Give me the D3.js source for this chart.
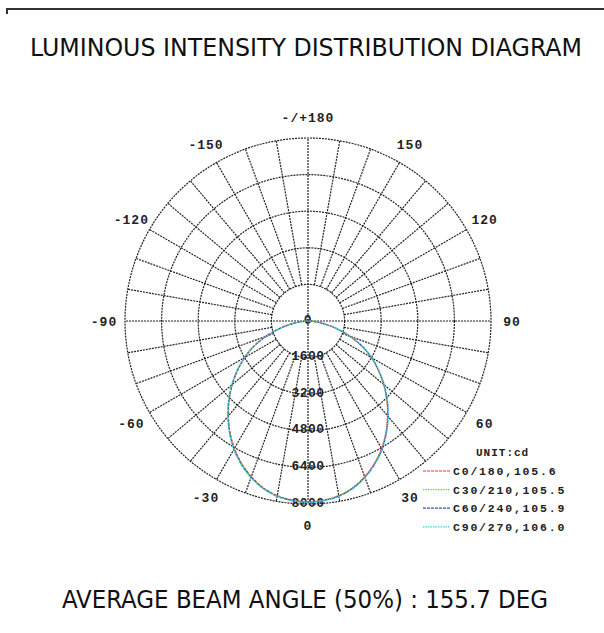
<!DOCTYPE html>
<html>
<head>
<meta charset="utf-8">
<script src="https://cdn.jsdelivr.net/npm/d3@7/dist/d3.min.js"></script>
<style>
  body { margin: 0; background: #fff; }
  svg { display: block; }
</style>
</head>
<body>
<svg id="chart"></svg>
<script>
// gamma angles (deg from nadir), one half of each C-plane, mirrored for the other half
var gammaAngles = [0,5,10,15,20,25,30,35,40,45,50,55,60,65,70,75,80,85,90];

// intensities in cd
var c0Values  = [7900,7860,7750,7550,7240,6870,6430,5940,5410,4870,4310,3750,3190,2590,1940,1290,710,270,0];
var c30Values = [7910,7870,7760,7560,7250,6880,6450,5950,5420,4880,4320,3760,3200,2600,1950,1300,720,280,0];
var c60Values = [7920,7880,7770,7570,7270,6900,6470,5970,5440,4900,4340,3780,3220,2620,1960,1310,730,280,0];
var c90Values = [7930,7890,7790,7590,7290,6920,6490,5990,5460,4920,4360,3800,3240,2640,1980,1320,740,290,0];

var seriesNames = ["C0/180,105.6","C30/210,105.5","C60/240,105.9","C90/270,106.0"];
var seriesColors = ["#ee3333","#77dd22","#3355bb","#44ccdd"];
var seriesDash = ["3,1","1.5,1","3,1","1.5,1"];

var ringValues = [1600,3200,4800,6400,8000];
var angleLabels = [0,30,60,90,120,150,180,-150,-120,-90,-60,-30];

var screen = {width:604, height:633};
var center = {x:308, y:321};
var outerRadius = 183;

var svg = d3.select("#chart")
    .attr("width",screen.width)
    .attr("height",screen.height);

// frame line at the top
svg.append("path")
    .attr("d","M7,14V9H604")
    .attr("fill","none")
    .attr("stroke","#333")
    .attr("stroke-width",2);

var textFont = "'DejaVu Sans Condensed','Liberation Sans Narrow','Noto Sans',sans-serif";

svg.append("text")
    .attr("x",306)
    .attr("y",56)
    .attr("text-anchor","middle")
    .attr("font-family",textFont)
    .attr("font-size",25)
    .attr("fill","#111")
    .attr("textLength",552)
    .attr("lengthAdjust","spacingAndGlyphs")
    .text("LUMINOUS INTENSITY DISTRIBUTION DIAGRAM");

svg.append("text")
    .attr("x",305)
    .attr("y",608)
    .attr("text-anchor","middle")
    .attr("font-family",textFont)
    .attr("font-size",25)
    .attr("fill","#111")
    .attr("textLength",486)
    .attr("lengthAdjust","spacingAndGlyphs")
    .text("AVERAGE BEAM ANGLE (50%) : 155.7 DEG");

//scales
var rScale = d3.scaleLinear()
    .domain([0,8000])
    .range([0,outerRadius]);

// gamma 0 points down, positive gamma goes to the right
var aScale = d3.scaleLinear()
    .domain([0,180])
    .range([Math.PI,0]);

var g = svg.append("g")
    .attr("transform","translate("+center.x+","+center.y+")");

var gridColor = "#222";
var gridDash = "2,1";

// rings
g.selectAll(".ring")
    .data(ringValues)
    .enter()
    .append("circle")
    .attr("r",function(v){ return rScale(v); })
    .attr("fill","none")
    .attr("stroke",gridColor)
    .attr("stroke-width",1.2)
    .attr("stroke-dasharray",gridDash);

// spokes every 10 degrees
g.selectAll(".spoke")
    .data(d3.range(0,360,10))
    .enter()
    .append("line")
    .attr("x1",function(a){
        var r0 = (a%90==0) ? 0 : rScale(ringValues[0]);
        return r0*Math.sin(aScale(a));
    })
    .attr("y1",function(a){
        var r0 = (a%90==0) ? 0 : rScale(ringValues[0]);
        return -r0*Math.cos(aScale(a));
    })
    .attr("x2",function(a){ return outerRadius*Math.sin(aScale(a)); })
    .attr("y2",function(a){ return -outerRadius*Math.cos(aScale(a)); })
    .attr("stroke",gridColor)
    .attr("stroke-width",1.2)
    .attr("stroke-dasharray",gridDash);

var monoFont = "'Liberation Mono','DejaVu Sans Mono',monospace";

// angle labels around the circle
g.selectAll(".angleLabel")
    .data(angleLabels)
    .enter()
    .append("text")
    .attr("x",function(a){ return 204*Math.sin(aScale(a)); })
    .attr("y",function(a){ return -204*Math.cos(aScale(a)); })
    .attr("dy","0.35em")
    .attr("text-anchor","middle")
    .attr("font-family",monoFont)
    .attr("font-size",13)
    .attr("font-weight","bold")
    .attr("letter-spacing",1)
    .attr("fill","#222")
    .text(function(a){ return a==180 ? "-/+180" : a; });

// ring labels along nadir
g.selectAll(".ringLabel")
    .data([0].concat(ringValues))
    .enter()
    .append("text")
    .attr("x",0)
    .attr("y",function(v){ return rScale(v)-2; })
    .attr("dy","0.35em")
    .attr("text-anchor","middle")
    .attr("font-family",monoFont)
    .attr("font-size",13)
    .attr("font-weight","bold")
    .attr("letter-spacing",0.5)
    .attr("fill","#222")
    .text(function(v){ return v; });

// build the full curve -90..90 from the two mirrored halves
var buildCurve = function(values)
{
    var pts = [];
    for (var i=gammaAngles.length-1; i>0; i--)
        pts.push({gamma:-gammaAngles[i], value:values[i]});
    for (var j=0; j<gammaAngles.length; j++)
        pts.push({gamma:gammaAngles[j], value:values[j]});
    return pts;
};

var line = d3.lineRadial()
    .angle(function(d){ return d.gamma>=0 ? aScale(d.gamma) : 2*Math.PI-aScale(-d.gamma); })
    .radius(function(d){ return rScale(d.value); })
    .curve(d3.curveCatmullRom);

var allSeries = [c0Values,c30Values,c60Values,c90Values];

g.selectAll(".curve")
    .data(allSeries)
    .enter()
    .append("path")
    .attr("d",function(s){ return line(buildCurve(s)); })
    .attr("fill","none")
    .attr("stroke",function(s,i){ return seriesColors[i]; })
    .attr("stroke-width",1.2)
    .attr("stroke-dasharray",function(s,i){ return seriesDash[i]; });

// legend
var legend = svg.append("g");

legend.append("text")
    .attr("x",476)
    .attr("y",456)
    .attr("font-family",monoFont)
    .attr("font-size",11)
    .attr("font-weight","bold")
    .attr("letter-spacing",1)
    .attr("fill","#222")
    .text("UNIT:cd");

var items = legend.selectAll(".item")
    .data(seriesNames)
    .enter()
    .append("g")
    .attr("transform",function(d,i){ return "translate(0,"+(471+i*18.6)+")"; });

items.append("line")
    .attr("x1",423)
    .attr("x2",450)
    .attr("stroke",function(d,i){ return seriesColors[i]; })
    .attr("stroke-width",1.2)
    .attr("stroke-dasharray",function(d,i){ return seriesDash[i]; });

items.append("text")
    .attr("x",453)
    .attr("dy","0.35em")
    .attr("font-family",monoFont)
    .attr("font-size",11.5)
    .attr("font-weight","bold")
    .attr("letter-spacing",1.8)
    .attr("fill","#222")
    .text(function(d){ return d; });
</script>
</body>
</html>
